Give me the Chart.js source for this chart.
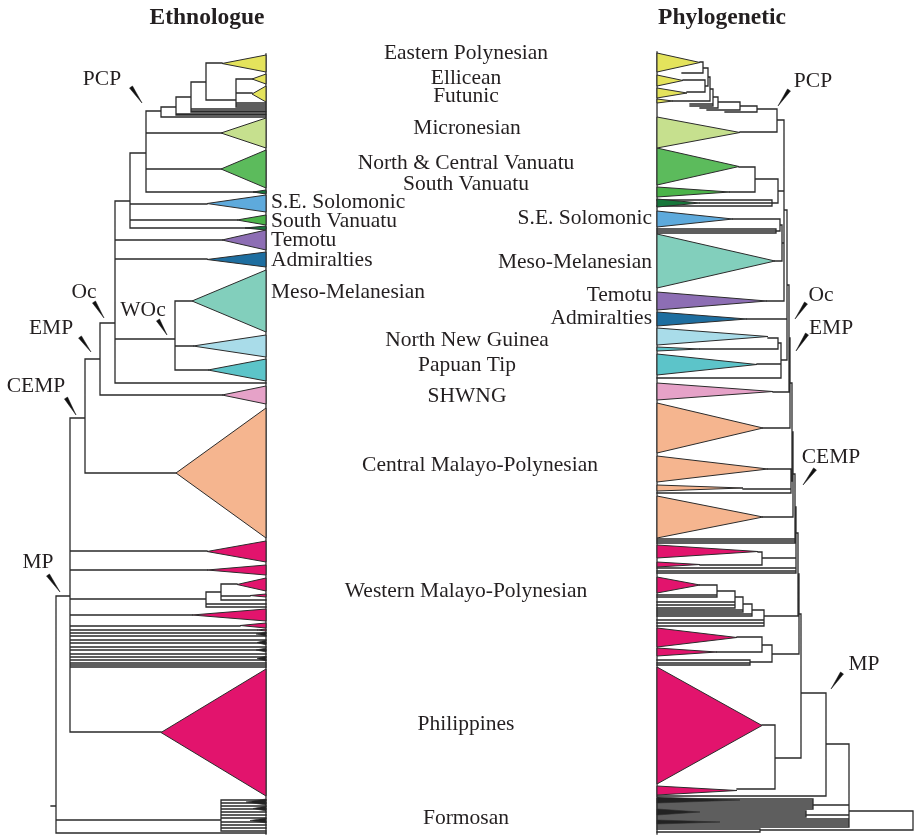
<!DOCTYPE html>
<html>
<head>
<meta charset="utf-8">
<title>Ethnologue vs Phylogenetic</title>
<script src="https://cdn.jsdelivr.net/npm/chart.js@4.4.1/dist/chart.umd.min.js"></script>
<style>
  html, body { margin: 0; padding: 0; background: #fff; }
  #wrap { width: 914px; height: 835px; position: relative; }
</style>
</head>
<body>
<div id="wrap"><canvas id="treeChart"></canvas></div>
<script>
// Collapsed clades: [group, tip depth, first row, last row]
const ethnologueClades = [
    ['polynesian', 222, 55, 72],
    ['polynesian', 252, 74, 84],
    ['polynesian', 252, 86, 102],
    ['micronesian', 221, 118, 148],
    ['ncVanuatu', 221, 150, 188],
    ['darkGreen', 253, 190, 194],
    ['seSolomonic', 207, 195, 212],
    ['sVanuatu', 237, 215, 225],
    ['darkGreen', 245, 226, 230],
    ['temotu', 222, 230, 250],
    ['admiralties', 207, 252, 267],
    ['mesoMelanesian', 192, 270, 332],
    ['nnGuinea', 193, 335, 357],
    ['papuanTip', 208, 359, 381],
    ['shwng', 222, 386, 404],
    ['cmp', 176, 408, 538],
    ['wmp', 207, 541, 562],
    ['wmp', 207, 565, 575],
    ['wmp', 237, 578, 591],
    ['wmp', 250, 594, 597],
    ['wmp', 192, 609, 621],
    ['wmp', 240, 623, 628],
    ['wmp', 257, 629, 631],
    ['black', 256, 632, 636],
    ['black', 257, 640, 645],
    ['black', 256, 648, 652],
    ['black', 257, 656, 661],
    ['philippines', 161, 669, 796],
    ['black', 246, 799, 805],
    ['black', 253, 806, 811],
    ['black', 250, 818, 823]
];

const phyloClades = [
    ['polynesian', 700, 53, 72],
    ['polynesian', 683, 75, 86],
    ['polynesian', 687, 88, 98],
    ['polynesian', 673, 99, 103],
    ['micronesian', 740, 117, 148],
    ['ncVanuatu', 739, 148, 185],
    ['sVanuatu', 730, 187, 197],
    ['darkGreen', 700, 199, 207],
    ['seSolomonic', 733, 211, 227],
    ['mesoMelanesian', 775, 234, 288],
    ['temotu', 767, 292, 310],
    ['admiralties', 747, 312, 326],
    ['nnGuinea', 768, 328, 345],
    ['papuanTip', 700, 347, 351],
    ['papuanTip', 757, 354, 375],
    ['shwng', 773, 383, 400],
    ['cmp', 763, 403, 453],
    ['cmp', 768, 456, 482],
    ['cmp', 743, 485, 491],
    ['cmp', 763, 496, 538],
    ['wmp', 758, 545, 558],
    ['wmp', 700, 562, 567],
    ['wmp', 700, 577, 593],
    ['wmp', 737, 628, 647],
    ['wmp', 717, 648, 656],
    ['philippines', 762, 667, 784],
    ['wmp', 737, 786, 795],
    ['black', 740, 797, 803],
    ['black', 700, 809, 815],
    ['black', 720, 820, 824]
];

// Internal nodes: [node depth, [[row, child depth], ...]]
const ethnologueNodes = [
    [236, [[79, 252], [93, 252], [103, 266], [105, 266], [107, 266]]],
    [206, [[63, 222], [100, 236]]],
    [191, [[82, 206], [109, 266], [111, 266], [112, 266]]],
    [176, [[97, 191], [114, 266], [115, 266]]],
    [161, [[107, 176], [117, 266]]],
    [146, [[111, 161], [133, 221], [169, 221], [192, 266]]],
    [130, [[153, 146], [204, 207], [220, 237], [228, 266]]],
    [175, [[301, 192], [346, 193], [370, 208]]],
    [115, [[201, 130], [240, 222], [259, 207], [339, 175], [383, 266]]],
    [100, [[323, 115], [395, 222]]],
    [85, [[359, 100], [473, 176]]],
    [221, [[584, 237], [596, 250], [600, 266]]],
    [206, [[592, 221], [604, 266], [607, 266]]],
    [70, [[418, 85], [551, 207], [570, 207], [599, 206], [615, 192], [626, 240], [630, 257],
          [633, 266], [636, 266], [640, 266], [643, 266], [647, 266], [650, 266], [654, 266],
          [657, 266], [660, 266], [663, 266], [665, 266], [667, 266], [732, 161]]],
    [221, [[800, 266], [803, 266], [806, 266], [809, 266], [812, 266], [815, 266],
           [818, 266], [822, 266], [825, 266], [828, 266], [831, 266]]],
    [56, [[596, 70], [820, 221], [833, 266]]],
    [51, [[806, 56]]]
];

const phyloNodes = [
    [703, [[62, 700], [73, 682]]],
    [705, [[80, 683], [92, 687]]],
    [708, [[68, 703], [86, 705]]],
    [710, [[77, 708], [101, 673]]],
    [713, [[89, 710], [104, 690], [106, 690]]],
    [718, [[97, 713], [108, 700]]],
    [740, [[102, 718], [110, 707]]],
    [757, [[106, 740], [112, 725]]],
    [777, [[109, 757], [132, 740]]],
    [755, [[167, 739], [192, 730]]],
    [772, [[200, 657], [203, 700], [206, 657]]],
    [778, [[179, 755], [203, 772]]],
    [776, [[229, 657], [231, 657], [233, 657]]],
    [780, [[219, 733], [231, 776]]],
    [782, [[225, 780], [261, 775]]],
    [784, [[120, 777], [191, 778], [243, 782], [301, 767]]],
    [778, [[338, 768], [349, 700]]],
    [781, [[343, 778], [364, 757], [378, 657]]],
    [787, [[210, 784], [319, 747], [360, 781]]],
    [789, [[285, 787], [392, 773]]],
    [790, [[338, 789], [428, 763]]],
    [791, [[469, 768], [489, 743], [493, 657]]],
    [792, [[383, 790], [481, 791]]],
    [793, [[432, 792], [517, 763]]],
    [795, [[474, 793], [539, 657], [541, 657], [543, 657]]],
    [762, [[552, 758], [565, 700]]],
    [796, [[507, 795], [558, 762], [568, 657], [571, 657], [573, 657]]],
    [717, [[585, 700], [595, 657], [597, 657]]],
    [735, [[591, 717], [602, 657], [605, 657], [608, 657]]],
    [743, [[597, 735], [610, 657], [612, 657]]],
    [752, [[604, 743], [614, 657], [616, 657]]],
    [764, [[610, 752], [620, 657], [623, 657], [626, 657]]],
    [798, [[533, 796], [616, 764]]],
    [762, [[637, 737], [652, 717]]],
    [750, [[660, 657], [663, 657], [665, 657]]],
    [772, [[645, 762], [662, 750]]],
    [799, [[574, 798], [654, 772]]],
    [775, [[725, 762], [789, 737]]],
    [801, [[614, 799], [758, 775]]],
    [826, [[693, 801], [796, 657]]],
    [813, [[799, 657], [801, 657], [803, 657], [805, 657], [807, 657], [809, 657]]],
    [806, [[811, 657], [813, 657], [815, 657], [817, 657]]],
    [760, [[829, 657], [832, 657]]],
    [849, [[744, 826], [805, 813], [815, 806], [819, 657], [821, 657], [823, 657],
           [825, 657], [827, 657]]],
    [913, [[811, 849], [830, 760]]]
];

const ethnologueBase = 266;
const phyloBase = 657;

const cladeColors = {
    polynesian: '#e4e35c',
    micronesian: '#c6e08e',
    ncVanuatu: '#5cbb5c',
    sVanuatu: '#4bb449',
    darkGreen: '#17773b',
    seSolomonic: '#5eaadc',
    temotu: '#8d6eb4',
    admiralties: '#1e6ea0',
    mesoMelanesian: '#82cfbc',
    nnGuinea: '#a9dce9',
    papuanTip: '#5cc4c9',
    shwng: '#e6a2c8',
    cmp: '#f5b58f',
    wmp: '#e2146d',
    philippines: '#e2146d',
    black: '#222222'
};

// Labels
const cladeLabels = [
    ['Eastern Polynesian', 466, 53, 'center'],
    ['Ellicean', 466, 78, 'center'],
    ['Futunic', 466, 96, 'center'],
    ['Micronesian', 467, 128, 'center'],
    ['North & Central Vanuatu', 466, 163, 'center'],
    ['South Vanuatu', 466, 184, 'center'],
    ['S.E. Solomonic', 271, 202, 'left'],
    ['South Vanuatu', 271, 221, 'left'],
    ['Temotu', 271, 240, 'left'],
    ['Admiralties', 271, 260, 'left'],
    ['Meso-Melanesian', 271, 292, 'left'],
    ['S.E. Solomonic', 652, 218, 'right'],
    ['Meso-Melanesian', 652, 262, 'right'],
    ['Temotu', 652, 295, 'right'],
    ['Admiralties', 652, 318, 'right'],
    ['North New Guinea', 467, 340, 'center'],
    ['Papuan Tip', 467, 365, 'center'],
    ['SHWNG', 467, 396, 'center'],
    ['Central Malayo-Polynesian', 480, 465, 'center'],
    ['Western Malayo-Polynesian', 466, 591, 'center'],
    ['Philippines', 466, 724, 'center'],
    ['Formosan', 466, 818, 'center']
];

const nodeLabels = [
    ['PCP', 102, 79], ['Oc', 84, 292], ['WOc', 143, 310], ['EMP', 51, 328],
    ['CEMP', 36, 386], ['MP', 38, 562],
    ['PCP', 813, 81], ['Oc', 821, 295], ['EMP', 831, 328], ['CEMP', 831, 457], ['MP', 864, 664]
];

// pointer wedges: from (x1, y1) to (x2, y2)
const nodePointers = [
    [131, 87, 142, 103], [94, 302, 104, 318], [158, 320, 167, 335], [80, 337, 91, 352],
    [66, 398, 76, 415], [48, 575, 60, 592],
    [789, 90, 778, 106], [806, 303, 795, 319], [807, 334, 796, 351],
    [815, 469, 803, 485], [842, 673, 831, 689]
];

const panelTitles = [['Ethnologue', 207, 18], ['Phylogenetic', 722, 18]];

function branchData(nodes) {
    const pts = [];
    nodes.forEach(([x, kids]) => {
        const ys = kids.map(k => k[0]);
        pts.push({x: x, y: Math.min(...ys)}, {x: x, y: Math.max(...ys)}, {x: x, y: null});
        kids.forEach(([y, end]) => {
            pts.push({x: x, y: y}, {x: end, y: y}, {x: x, y: null});
        });
    });
    return pts;
}

function cladeDatasets(clades, base) {
    return clades.map(([group, tip, top, bottom]) => ({
        data: [
            {x: base, y: top},
            {x: tip, y: (top + bottom) / 2},
            {x: base, y: bottom},
            {x: base, y: top}
        ],
        fill: 'shape',
        backgroundColor: cladeColors[group],
        borderColor: '#2b2b2b',
        borderWidth: group === 'black' ? 0.6 : 1,
        pointRadius: 0
    }));
}

function pointerDatasets(pointers) {
    return pointers.map(([x1, y1, x2, y2]) => {
        const len = Math.hypot(x2 - x1, y2 - y1);
        const nx = -(y2 - y1) / len * 1.8;
        const ny = (x2 - x1) / len * 1.8;
        return {
            data: [
                {x: x1 + nx, y: y1 + ny},
                {x: x2, y: y2},
                {x: x1 - nx, y: y1 - ny},
                {x: x1 + nx, y: y1 + ny}
            ],
            fill: 'shape',
            backgroundColor: '#111',
            borderColor: '#111',
            borderWidth: 0.5,
            pointRadius: 0
        };
    });
}

const branchStyle = {
    borderColor: '#2a2a2a',
    borderWidth: 1.3,
    borderCapStyle: 'square',
    pointRadius: 0,
    fill: false,
    spanGaps: false
};

const datasets = [
    ...cladeDatasets(ethnologueClades, ethnologueBase),
    ...cladeDatasets(phyloClades, phyloBase),
    ...pointerDatasets(nodePointers),
    Object.assign({data: branchData(ethnologueNodes)}, branchStyle),
    Object.assign({data: branchData(phyloNodes)}, branchStyle),
    Object.assign({data: [{x: ethnologueBase, y: 54}, {x: ethnologueBase, y: 834}]}, branchStyle),
    Object.assign({data: [{x: phyloBase, y: 52}, {x: phyloBase, y: 834}]}, branchStyle)
];

const treeLabels = {
    id: 'treeLabels',
    afterDatasetsDraw(chart) {
        const {ctx, scales: {x, y}} = chart;
        ctx.save();
        ctx.fillStyle = '#231f20';
        ctx.textBaseline = 'middle';
        ctx.font = '21.5px "Liberation Serif", serif';
        cladeLabels.forEach(([text, lx, ly, align]) => {
            ctx.textAlign = align;
            ctx.fillText(text, x.getPixelForValue(lx), y.getPixelForValue(ly));
        });
        ctx.textAlign = 'center';
        nodeLabels.forEach(([text, lx, ly]) => {
            ctx.fillText(text, x.getPixelForValue(lx), y.getPixelForValue(ly));
        });
        ctx.font = 'bold 23.5px "Liberation Serif", serif';
        panelTitles.forEach(([text, lx, ly]) => {
            ctx.fillText(text, x.getPixelForValue(lx), y.getPixelForValue(ly));
        });
        ctx.restore();
    }
};

new Chart(document.getElementById('treeChart'), {
    type: 'line',
    data: {datasets: datasets},
    options: {
        responsive: true,
        maintainAspectRatio: false,
        animation: false,
        events: [],
        layout: {padding: 0},
        elements: {line: {tension: 0}},
        scales: {
            x: {type: 'linear', min: 0, max: 914, display: false},
            y: {type: 'linear', min: 0, max: 835, reverse: true, display: false}
        },
        plugins: {
            legend: {display: false},
            tooltip: {enabled: false}
        }
    },
    plugins: [treeLabels]
});
</script>
</body>
</html>
